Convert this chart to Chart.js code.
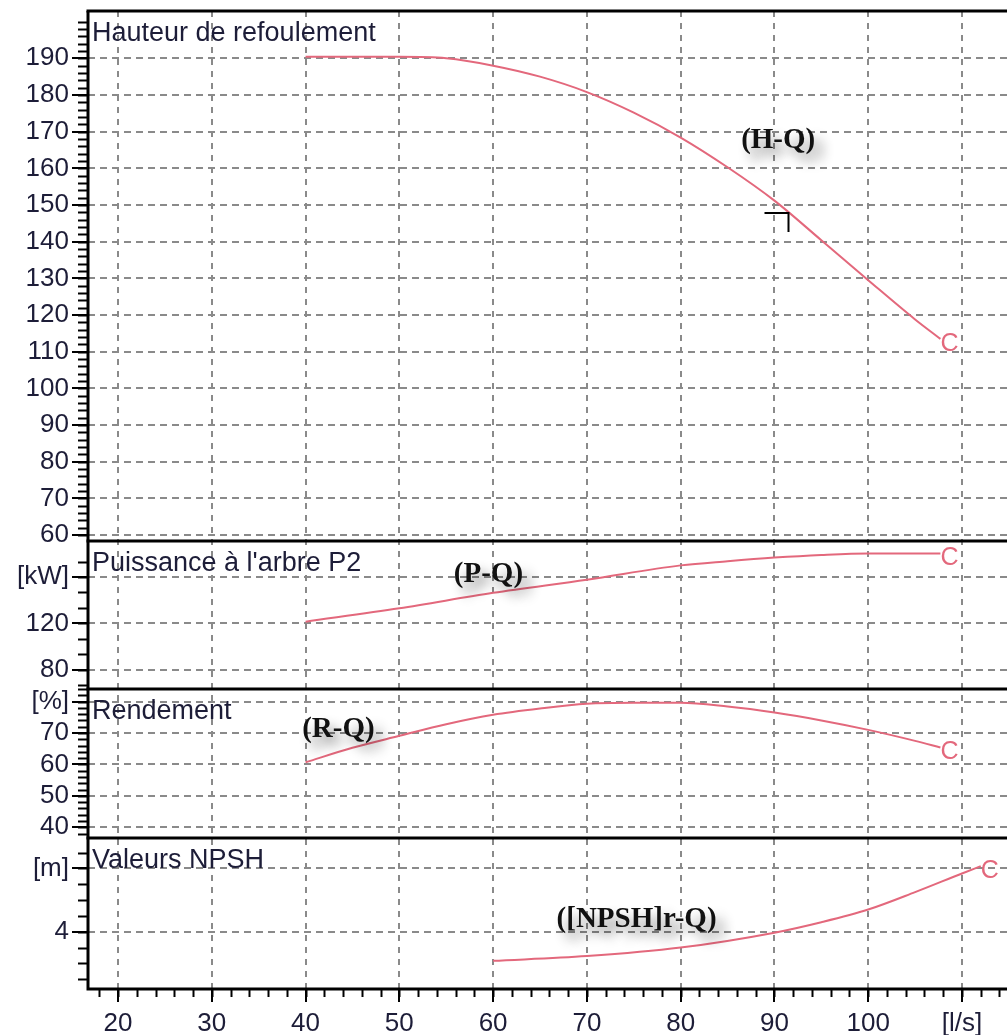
<!DOCTYPE html>
<html lang="fr">
<head>
<meta charset="UTF-8">
<script src="https://cdn.jsdelivr.net/npm/chart.js"></script>
<title>Courbes de pompe</title>
<style>
  html, body { margin: 0; padding: 0; background: #fff; overflow: hidden; }
</style>
</head>
<body>
<canvas id="myChart" width="1007" height="1035"></canvas>

<script>
// débit [l/s]
const flowTicks = [20, 30, 40, 50, 60, 70, 80, 90, 100, 110];
const flowTickLabels = ['20', '30', '40', '50', '60', '70', '80', '90', '100', '[l/s]'];

// Hauteur de refoulement (H-Q)
const qHead = [40, 45, 50, 55, 60, 65, 70, 75, 80, 85, 90, 95, 100, 105, 107.7];
const head = [190.4, 190.4, 190.4, 190.0, 188.0, 185.0, 180.8, 175.2, 168.4, 160.3, 151.2, 140.4, 129.5, 118.8, 113.5];
const headTicks = [60, 70, 80, 90, 100, 110, 120, 130, 140, 150, 160, 170, 180, 190];
const headTickLabels = headTicks.map(String);

// Puissance à l'arbre P2 (P-Q)
const qPower = [40, 50, 60, 70, 80, 85, 90, 95, 100, 107.7];
const power = [121.5, 133.0, 146.4, 157.7, 170.0, 173.6, 176.7, 179.0, 180.3, 180.3];
const powerTicks = [80, 120, 160];
const powerTickLabels = ['80', '120', '[kW]'];

// Rendement (R-Q)
const qEff = [40, 45, 50, 55, 60, 65, 70, 75, 80, 85, 90, 95, 100, 105, 107.7];
const eff = [60.7, 65.3, 69.1, 72.8, 75.8, 77.8, 79.3, 79.6, 79.6, 78.4, 76.5, 74.0, 71.0, 67.5, 65.4];
const effTicks = [40, 50, 60, 70, 80];
const effTickLabels = ['40', '50', '60', '70', '[%]'];

// Valeurs NPSH ([NPSH]r-Q)
const qNpsh = [60, 70, 80, 90, 95, 100, 105, 110, 112];
const npsh = [3.08, 3.23, 3.50, 3.97, 4.30, 4.70, 5.25, 5.84, 6.07];
const npshTicks = [4, 6];
const npshTickLabels = ['4', '[m]'];

// point de fonctionnement
const duty = { q: 91.5, h: 147.8 };

const curveColor = '#e3687c';
const gridColor = '#8a8a8a';
const textColor = '#1d1d38';
const tickFont = { family: 'Liberation Sans', size: 26 };

function toPoints(xs, ys) {
    return xs.map(function(x, i) { return { x: x, y: ys[i] }; });
}

function noPadding(s) {
    s.paddingTop = 0;
    s.paddingBottom = 0;
    s.paddingLeft = 0;
    s.paddingRight = 0;
}

function yAxis(min, max, weight, ticks, labels) {
    return {
        type: 'linear',
        position: 'left',
        stack: 'pump',
        stackWeight: weight,
        min: min,
        max: max,
        afterBuildTicks: function(s) { s.ticks = ticks.map(function(v) { return { value: v }; }); },
        afterFit: function(s) { s.width = 88; noPadding(s); },
        ticks: {
            autoSkip: false,
            padding: 3,
            color: textColor,
            font: tickFont,
            callback: function(v, i) { return labels[i]; }
        },
        grid: {
            color: gridColor,
            lineWidth: 2,
            tickLength: 16,
            tickColor: '#000',
            tickWidth: 2,
            tickBorderDash: []
        },
        border: { display: false, dash: [7, 5] }
    };
}

function line(label, xs, ys, axis) {
    return {
        label: label,
        data: toPoints(xs, ys),
        yAxisID: axis,
        borderColor: curveColor,
        borderWidth: 2,
        pointRadius: 0,
        tension: 0.4,
        cubicInterpolationMode: 'monotone',
        fill: false
    };
}

// réglages décoratifs par panneau
const panels = {
    yH: { title: 'Hauteur de refoulement', curve: '(H-Q)', at: [90.4, 167.7], minor: [60, 200, 2] },
    yP: { title: "Puissance à l'arbre P2", curve: '(P-Q)', at: [59.5, 162.3], minor: [66.67, 173.4, 40 / 3] },
    yR: { title: 'Rendement', curve: '(R-Q)', at: [43.5, 71], minor: [38, 84, 2] },
    yN: { title: 'Valeurs NPSH', curve: '([NPSH]r-Q)', at: [75.3, 4.37], minor: [2.5, 6.5, 0.5] }
};

const decor = {
    id: 'decor',
    afterDraw: function(chart) {
        const ctx = chart.ctx;
        const area = chart.chartArea;
        const xs = chart.scales.x;
        ctx.save();

        // petites graduations
        ctx.strokeStyle = '#000';
        ctx.lineWidth = 2;
        Object.keys(panels).forEach(function(id) {
            const s = chart.scales[id];
            const m = panels[id].minor;
            for (let v = m[0]; v <= m[1] + 1e-6; v += m[2]) {
                const y = Math.round(s.getPixelForValue(v)) + 0.5;
                if (y < s.top || y > s.bottom) continue;
                ctx.beginPath();
                ctx.moveTo(area.left - 10, y);
                ctx.lineTo(area.left, y);
                ctx.stroke();
            }
        });
        for (let v = 18; v <= 114; v += 2) {
            const x = Math.round(xs.getPixelForValue(v)) + 0.5;
            ctx.beginPath();
            ctx.moveTo(x, area.bottom);
            ctx.lineTo(x, area.bottom + 8);
            ctx.stroke();
        }

        // cadres des panneaux
        ctx.lineWidth = 3;
        Object.keys(panels).forEach(function(id) {
            const s = chart.scales[id];
            ctx.beginPath();
            ctx.moveTo(area.left - 1.5, s.top);
            ctx.lineTo(area.right, s.top);
            ctx.stroke();
        });
        ctx.beginPath();
        ctx.moveTo(area.left - 1.5, area.bottom);
        ctx.lineTo(area.right, area.bottom);
        ctx.moveTo(area.left, area.top);
        ctx.lineTo(area.left, area.bottom);
        ctx.stroke();

        // titres des panneaux
        ctx.fillStyle = textColor;
        ctx.font = '27px "Liberation Sans"';
        ctx.textAlign = 'left';
        ctx.textBaseline = 'middle';
        Object.keys(panels).forEach(function(id) {
            const s = chart.scales[id];
            ctx.fillText(panels[id].title, area.left + 4, s.top + 23);
        });

        // repère "C" en fin de courbe
        ctx.fillStyle = curveColor;
        ctx.font = '25px "Liberation Sans"';
        chart.data.datasets.forEach(function(ds) {
            const last = ds.data[ds.data.length - 1];
            const px = xs.getPixelForValue(last.x);
            const py = chart.scales[ds.yAxisID].getPixelForValue(last.y);
            ctx.fillText('C', px, py + 5);
        });

        // point de fonctionnement
        const dx = xs.getPixelForValue(duty.q);
        const dy = chart.scales.yH.getPixelForValue(duty.h);
        ctx.strokeStyle = '#000';
        ctx.lineWidth = 2;
        ctx.beginPath();
        ctx.moveTo(dx - 24, dy);
        ctx.lineTo(dx, dy);
        ctx.lineTo(dx, dy + 19);
        ctx.stroke();

        // étiquettes des courbes
        ctx.font = 'bold 29px "Liberation Serif"';
        ctx.textAlign = 'center';
        ctx.fillStyle = '#111';
        ctx.shadowColor = 'rgba(0,0,0,0.45)';
        ctx.shadowBlur = 12;
        ctx.shadowOffsetX = 8;
        ctx.shadowOffsetY = 9;
        Object.keys(panels).forEach(function(id) {
            const p = panels[id];
            ctx.fillText(p.curve, xs.getPixelForValue(p.at[0]), chart.scales[id].getPixelForValue(p.at[1]));
        });
        ctx.restore();
    }
};

new Chart('myChart', {
    type: 'line',
    data: {
        datasets: [
            line('H-Q', qHead, head, 'yH'),
            line('P-Q', qPower, power, 'yP'),
            line('R-Q', qEff, eff, 'yR'),
            line('NPSH-Q', qNpsh, npsh, 'yN')
        ]
    },
    options: {
        responsive: false,
        animation: false,
        layout: { padding: { top: 11, right: 0, bottom: 0, left: 0 } },
        plugins: { legend: { display: false }, tooltip: { enabled: false } },
        scales: {
            x: {
                type: 'linear',
                min: 16.8,
                max: 114.8,
                afterBuildTicks: function(s) { s.ticks = flowTicks.map(function(v) { return { value: v }; }); },
                afterFit: function(s) { s.height = 46; noPadding(s); },
                ticks: {
                    autoSkip: false,
                    maxRotation: 0,
                    padding: 6,
                    color: textColor,
                    font: tickFont,
                    callback: function(v, i) { return flowTickLabels[i]; }
                },
                grid: {
                    color: gridColor,
                    lineWidth: 2,
                    tickLength: 13,
                    tickColor: '#000',
                    tickWidth: 2,
                    tickBorderDash: []
                },
                border: { display: false, dash: [6, 6] }
            },
            yN: yAxis(2.19, 6.96, 151, npshTicks, npshTickLabels),
            yR: yAxis(36.6, 84, 149, effTicks, effTickLabels),
            yP: yAxis(63.5, 191, 148, powerTicks, powerTickLabels),
            yH: yAxis(58.4, 202.9, 530, headTicks, headTickLabels)
        }
    },
    plugins: [decor]
});
</script>
</body>
</html>
